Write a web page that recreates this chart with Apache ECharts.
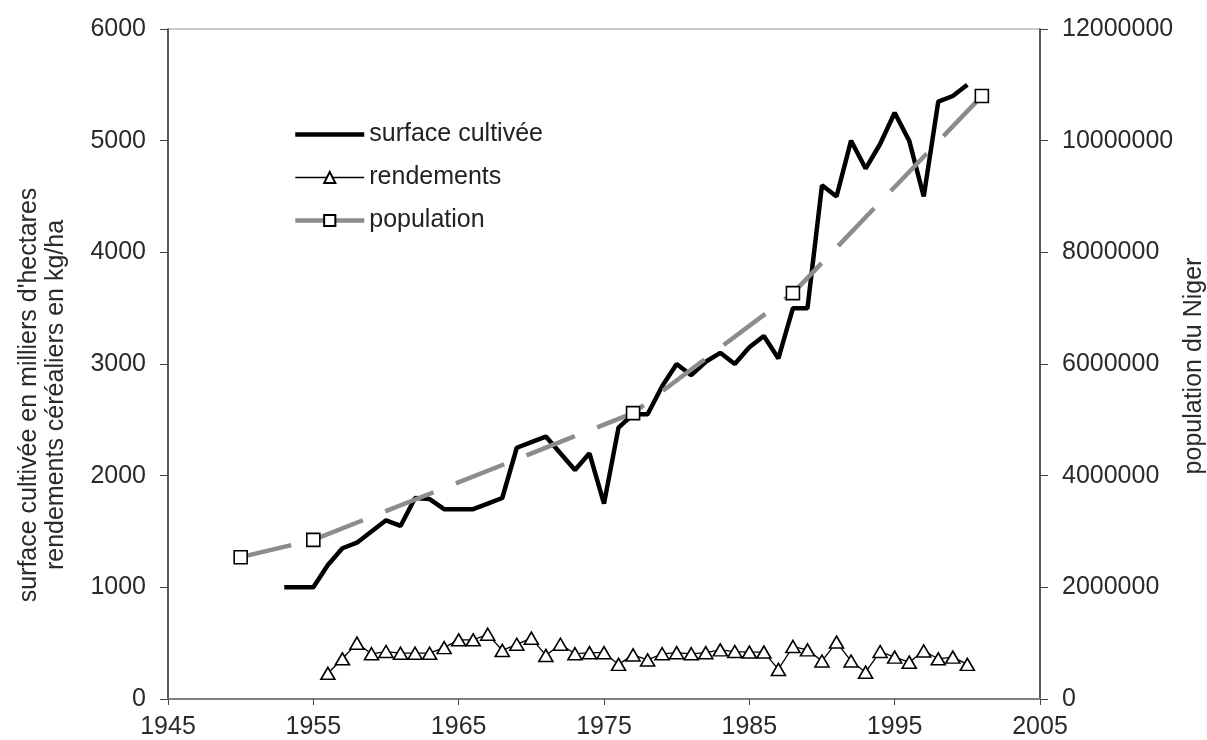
<!DOCTYPE html>
<html>
<head>
<meta charset="utf-8">
<script src="https://cdn.jsdelivr.net/npm/echarts@6/dist/echarts.min.js"></script>
<style>html,body{margin:0;padding:0;background:#fff;}#chart{width:1207px;height:740px;}</style>
</head>
<body>
<div id="chart"></div>
<script>
// ---- data ----
const surfaceYears = [1953,1954,1955,1956,1957,1958,1959,1960,1961,1962,1963,1964,1965,1966,1967,1968,1969,1970,1971,1972,1973,1974,1975,1976,1977,1978,1979,1980,1981,1982,1983,1984,1985,1986,1987,1988,1989,1990,1991,1992,1993,1994,1995,1996,1997,1998,1999,2000];
const surfaceValues = [1000,1000,1000,1200,1350,1400,1500,1600,1550,1800,1790,1700,1700,1700,1750,1800,2250,2300,2350,2200,2050,2200,1750,2430,2550,2550,2800,3000,2900,3020,3100,3000,3150,3250,3050,3500,3500,4600,4500,5000,4750,4970,5250,5000,4500,5350,5400,5500];
const rendYears = [1956,1957,1958,1959,1960,1961,1962,1963,1964,1965,1966,1967,1968,1969,1970,1971,1972,1973,1974,1975,1976,1977,1978,1979,1980,1981,1982,1983,1984,1985,1986,1987,1988,1989,1990,1991,1992,1993,1994,1995,1996,1997,1998,1999,2000];
const rendValues = [230,360,500,405,425,410,410,410,460,530,530,580,435,490,545,390,490,405,415,415,310,395,350,405,415,405,415,440,425,420,420,265,470,440,340,510,340,240,425,375,330,430,360,375,310];
const popYears = [1950,1955,1977,1988,2001];
const popValues = [2540000,2850000,5120000,7270000,10800000];
const seriesNames = ['surface cultivée','rendements','population'];
const leftAxisName = "surface cultivée en milliers d'hectares\nrendements céréaliers en kg/ha";
const rightAxisName = 'population du Niger';
const xStart = 1945, xEnd = 2005;

// ---- build ----
const FONT = 'Liberation Sans, Arial, sans-serif';
const pairs = (xs, ys) => xs.map((x, i) => [x - xStart, ys[i]]);

const chart = echarts.init(document.getElementById('chart'));
chart.setOption({
  animation: false,
  backgroundColor: '#fff',
  textStyle: { fontFamily: FONT },
  grid: { left: 168, right: 167, top: 29, bottom: 38, show: true, borderColor: '#999', borderWidth: 1 },
  legend: {
    orient: 'vertical', left: 288, top: 117, itemGap: 18,
    itemWidth: 69, itemHeight: 14,
    textStyle: { fontSize: 25, color: '#222', fontFamily: FONT },
    data: [
      { name: seriesNames[0], lineStyle: { color: '#000', width: 4.5, type: 'solid' }, itemStyle: { opacity: 0 } },
      { name: seriesNames[1], lineStyle: { color: '#000', width: 1.3, type: 'solid' } },
      { name: seriesNames[2], lineStyle: { color: '#8c8c8c', width: 4.5, type: 'solid' } }
    ]
  },
  xAxis: {
    type: 'value', min: 0, max: xEnd - xStart, interval: 10,
    axisLine: { lineStyle: { color: '#808080', width: 2 } },
    axisTick: { show: true, length: 6, lineStyle: { color: '#444' } },
    splitLine: { show: false },
    axisLabel: { fontSize: 25, color: '#2a2a2a', margin: 16, fontFamily: FONT, formatter: v => String(v + xStart) }
  },
  yAxis: [
    {
      type: 'value', min: 0, max: 6000, interval: 1000, position: 'left',
      axisLine: { show: true, lineStyle: { color: '#333', width: 1.5 } },
      axisTick: { show: true, length: 8, lineStyle: { color: '#444' } },
      splitLine: { show: false },
      axisLabel: { fontSize: 25, color: '#2a2a2a', margin: 22, fontFamily: FONT, formatter: v => String(v) }
    },
    {
      type: 'value', min: 0, max: 12000000, interval: 2000000, position: 'right',
      axisLine: { show: true, lineStyle: { color: '#333', width: 1.5 } },
      axisTick: { show: true, length: 8, lineStyle: { color: '#444' } },
      splitLine: { show: false },
      axisLabel: { fontSize: 25, color: '#2a2a2a', margin: 22, fontFamily: FONT, formatter: v => String(v) }
    }
  ],
  graphic: [
    {
      type: 'text', x: 43, y: 395, rotation: Math.PI / 2,
      style: { text: leftAxisName, font: '25px ' + FONT, fill: '#2a2a2a', textAlign: 'center', textVerticalAlign: 'middle', lineHeight: 27 }
    },
    {
      type: 'text', x: 1194, y: 366, rotation: Math.PI / 2,
      style: { text: rightAxisName, font: '25px ' + FONT, fill: '#2a2a2a', textAlign: 'center', textVerticalAlign: 'middle' }
    }
  ],
  series: [
    {
      name: seriesNames[0], type: 'line', yAxisIndex: 0,
      data: pairs(surfaceYears, surfaceValues),
      symbol: 'none', showSymbol: false,
      lineStyle: { color: '#000', width: 4.5 },
      itemStyle: { color: '#000' },
      z: 2
    },
    {
      name: seriesNames[1], type: 'line', yAxisIndex: 0,
      data: pairs(rendYears, rendValues),
      symbol: 'triangle', symbolSize: [14, 12],
      lineStyle: { color: '#000', width: 1.3 },
      itemStyle: { color: '#fff', borderColor: '#000', borderWidth: 1.6 },
      z: 3
    },
    {
      name: seriesNames[2], type: 'line', yAxisIndex: 1,
      data: pairs(popYears, popValues),
      symbol: 'rect', symbolSize: 13,
      lineStyle: { color: '#8c8c8c', width: 4.5, type: [52, 24], cap: 'butt' },
      itemStyle: { color: '#fff', borderColor: '#000', borderWidth: 1.6 },
      z: 4
    }
  ]
});
</script>
</body>
</html>
